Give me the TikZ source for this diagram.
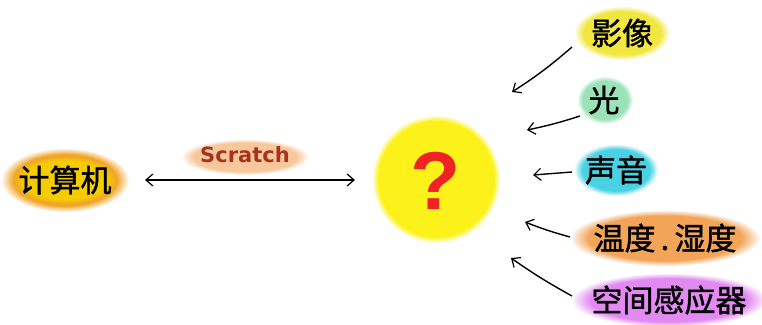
\documentclass[tikz,border=0pt]{standalone}
\usepackage{fontspec}
\newfontfamily\cjk[FakeBold=1.3]{Noto Sans CJK SC}
\newfontfamily\dejavu{DejaVu Sans}
\newfontfamily\libsans{Liberation Sans}
\usetikzlibrary{fadings,arrows.meta}
\definecolor{qyellow}{HTML}{FCF21A}
\definecolor{blobyel}{HTML}{F2E640}
\definecolor{bloborange}{HTML}{F2A458}
\definecolor{blobgreen}{HTML}{9AE2B8}
\definecolor{blobcyan}{HTML}{48D2E4}
\definecolor{blobviolet}{HTML}{E28AF2}
\definecolor{compyel}{HTML}{F5CC00}
\definecolor{comporange}{HTML}{F0A628}
\definecolor{scratchred}{HTML}{A8321E}
\definecolor{qred}{HTML}{EE2424}
\tikzset{
  lbl/.style={font=\cjk\fontsize{31}{31}\selectfont, text=black, inner sep=0pt},
  blob/.style={path fading=circle with fuzzy edge 20 percent},
  feed/.style={-{Straight Barb[length=7pt,width=12pt,line width=1.2pt]}, line width=1.4pt, black},
  both/.style={{Straight Barb[length=7pt,width=12pt,line width=1.2pt]}-{Straight Barb[length=7pt,width=12pt,line width=1.2pt]}, line width=1.4pt, black}
}
\begin{document}
\begin{tikzpicture}[x=1pt,y=-1pt]
\useasboundingbox (0,0) rectangle (762,324);
% blobs
\fill[comporange, blob] (65,180) ellipse (64 and 32);
\fill[compyel, blob] (65,180) ellipse (52 and 24);
\fill[bloborange!60, blob] (245,157) ellipse (64 and 18);
\fill[qyellow, path fading=circle with fuzzy edge 10 percent] (436,179) circle (64);
\fill[blobyel, blob] (622,33) ellipse (48 and 27);
\fill[blobgreen, blob] (605,100) ellipse (28 and 24);
\fill[blobcyan, blob] (616,170) ellipse (42 and 26);
\fill[bloborange, blob] (665,238) ellipse (95 and 28);
\fill[blobviolet, blob] (669,300) ellipse (98 and 27);
% texts
\node[lbl] (comp) at (65,180) {计算机};
\node[font=\dejavu\bfseries\fontsize{21}{21}\selectfont, text=scratchred, inner sep=0pt] (scr) at (245,155) {Scratch};
\node[font=\libsans\bfseries\fontsize{82}{82}\selectfont, text=qred, inner sep=0pt] (q) at (436,181) {?};
\node[lbl] (img) at (622,33) {影像};
\node[lbl] (light) at (604,100) {光};
\node[lbl] (sound) at (616,170) {声音};
\node[lbl] (temp) at (665,238) {温度\,.\,湿度};
\node[lbl] (space) at (669,300) {空间感应器};
% connectors
\coordinate (la) at (145,180);
\coordinate (ra) at (355,180);
\draw[both] (la) -- (ra);
\coordinate (s1) at (572,47);   \coordinate (e1) at (512,92);
\coordinate (s2) at (580,116);  \coordinate (e2) at (527,130);
\coordinate (s3) at (572,172);  \coordinate (e3) at (533,175);
\coordinate (s4) at (570,237);  \coordinate (e4) at (525,222);
\coordinate (s5) at (572,296);  \coordinate (e5) at (511,258);
\draw[feed] (s1) to[bend left=4] (e1);
\draw[feed] (s2) to[bend left=3] (e2);
\draw[feed] (s3) -- (e3);
\draw[feed] (s4) to[bend left=3] (e4);
\draw[feed] (s5) to[bend left=3] (e5);
\end{tikzpicture}
\end{document}
